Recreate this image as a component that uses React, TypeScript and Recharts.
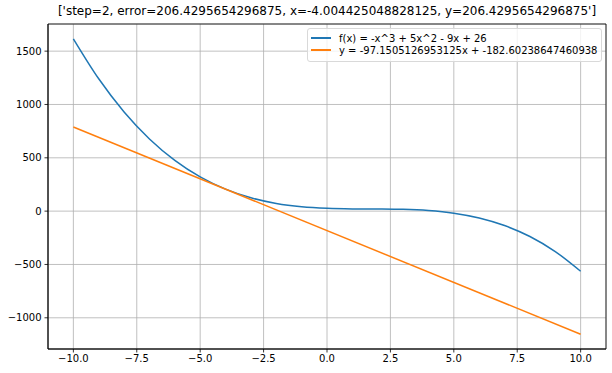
import { CartesianGrid, Line, LineChart, ReferenceArea, XAxis, YAxis } from "recharts";

const TITLE =
  "['step=2, error=206.4295654296875, x=-4.004425048828125, y=206.4295654296875']";
const CURVE_LABEL = "f(x) = -x^3 + 5x^2 - 9x + 26";
const LINE_LABEL = "y = -97.1505126953125x + -182.60238647460938";

const curveX = [-10, -9, -8, -7, -6, -5, -4, -3, -2, -1, 0, 1, 2, 3, 4, 5, 6, 7, 8, 9, 10];
const curveY = [
  1616, 1241, 930, 677, 476, 321, 206, 125, 72, 41, 26, 21, 20, 17, 6, -19, -64, -135, -238,
  -379, -564,
];
const lineX = [-10, 10];
const lineY = [788.9, -1154.1];

const xTicks = [-10, -7.5, -5, -2.5, 0, 2.5, 5, 7.5, 10];
const yTicks = [-1000, -500, 0, 500, 1000, 1500];

const curveData = curveX.map((x, i) => ({ x, y: curveY[i] }));
const lineData = lineX.map((x, i) => ({ x, y: lineY[i] }));

const FONT = "DejaVu Sans, sans-serif";
const minus = (s: string) => s.replace("-", "\u2212");

export default function App() {
  return (
    <div style={{ position: "absolute", left: 0, top: 0, width: 612, height: 373, background: "#fff", fontFamily: FONT }}>
      <div
        style={{
          position: "absolute",
          left: 48,
          width: 558,
          top: 4,
          textAlign: "center",
          fontSize: 12,
          color: "#000",
          whiteSpace: "nowrap",
        }}
      >
        {TITLE}
      </div>
      <LineChart
        width={612}
        height={373}
        margin={{ top: 24, right: 6, bottom: 0, left: 0 }}
      >
        <CartesianGrid stroke="#b0b0b0" strokeWidth={0.8} />
        <XAxis
          type="number"
          dataKey="x"
          domain={[-11, 11]}
          ticks={xTicks}
          height={24}
          tickSize={3.5}
          tickMargin={2}
          stroke="#000"
          strokeWidth={0.8}
          tick={{ fill: "#000", fontSize: 10, fontFamily: FONT }}
          tickFormatter={(v: number) => minus(v.toFixed(1))}
          allowDataOverflow
        />
        <YAxis
          type="number"
          dataKey="y"
          domain={[-1292.6, 1754.5]}
          ticks={yTicks}
          width={48}
          tickSize={3.5}
          tickMargin={3}
          stroke="#000"
          strokeWidth={0.8}
          tick={{ fill: "#000", fontSize: 10, fontFamily: FONT }}
          tickFormatter={(v: number) => minus(String(v))}
          allowDataOverflow
        />
        <ReferenceArea
          x1={-11}
          x2={11}
          y1={-1292.6}
          y2={1754.5}
          fill="none"
          stroke="#000"
          strokeWidth={0.8}
          strokeOpacity={1}
        />
        <Line
          data={curveData}
          dataKey="y"
          type="monotone"
          stroke="#1f77b4"
          strokeWidth={1.5}
          dot={false}
          isAnimationActive={false}
        />
        <Line
          data={lineData}
          dataKey="y"
          type="linear"
          stroke="#ff7f0e"
          strokeWidth={1.5}
          dot={false}
          isAnimationActive={false}
        />
      </LineChart>
      <div
        style={{
          position: "absolute",
          left: 307,
          top: 28,
          width: 293,
          height: 32,
          border: "1px solid #d9d9d9",
          borderRadius: 3,
          background: "rgba(255,255,255,0.8)",
          fontSize: 10,
          color: "#000",
        }}
      >
        {[
          { label: CURVE_LABEL, color: "#1f77b4" },
          { label: LINE_LABEL, color: "#ff7f0e" },
        ].map((item, i) => (
          <div
            key={i}
            style={{ position: "absolute", left: 3, top: 3 + i * 12, height: 12, display: "flex", alignItems: "center", whiteSpace: "nowrap" }}
          >
            <div style={{ width: 20, height: 1.5, background: item.color, marginRight: 8 }} />
            <span>{item.label}</span>
          </div>
        ))}
      </div>
    </div>
  );
}
